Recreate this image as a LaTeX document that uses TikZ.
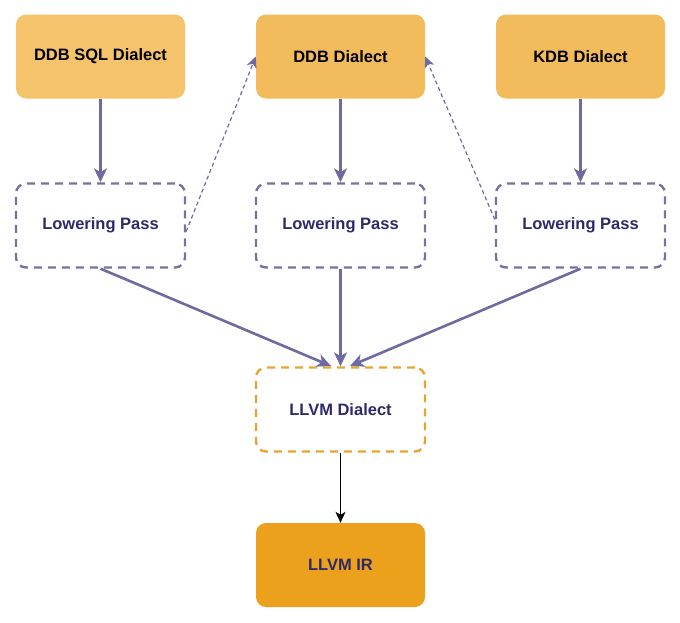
\documentclass[tikz,border=0pt]{standalone}
\usepackage{fontspec}
\setmainfont{Liberation Sans}
\usetikzlibrary{arrows.meta}
\definecolor{topfill}{HTML}{F2BC5C}
\definecolor{topfillA}{HTML}{F4C36C}
\definecolor{irfill}{HTML}{EBA11C}
\definecolor{navy}{HTML}{2D2A6A}
\definecolor{passline}{HTML}{75729F}
\definecolor{arr}{HTML}{6E6BA0}
\definecolor{orline}{HTML}{E9A42E}
\begin{document}
\begin{tikzpicture}[x=1pt,y=-1pt,
  box/.style={rounded corners=10pt, minimum width=169pt, minimum height=84pt, inner sep=0pt, font=\fontsize{16.5}{19}\selectfont\bfseries},
  topbox/.style={box, fill=topfill, text=black},
  passbox/.style={box, draw=passline, line width=2.4pt, dash pattern=on 8pt off 6pt, fill=white, text=navy},
  llvmbox/.style={box, draw=orline, line width=2.4pt, dash pattern=on 8pt off 6pt, fill=white, text=navy},
  irbox/.style={box, fill=irfill, text=navy},
  flow/.style={draw=arr, line width=2.6pt, -{Stealth[inset=4pt,length=14pt,width=13pt]}},
  back/.style={draw=arr, line width=1.2pt, dash pattern=on 4pt off 3pt, -{Stealth[inset=3pt,length=11pt,width=10pt]}},
  final/.style={draw=black, line width=1.4pt, -{Stealth[inset=3pt,length=11pt,width=10pt]}}]
\useasboundingbox (0,0) rectangle (680,622);
\node[topbox, fill=topfillA] (sql) at (100.5,56.5) {DDB SQL Dialect};
\node[topbox] (ddb) at (340.5,56.5) {DDB Dialect};
\node[topbox] (kdb) at (580.5,56.5) {KDB Dialect};
\node[passbox] (p1) at (100.5,225.5) {Lowering Pass};
\node[passbox] (p2) at (340.5,225.5) {Lowering Pass};
\node[passbox] (p3) at (580.5,225.5) {Lowering Pass};
\node[llvmbox] (ld) at (340.5,409.5) {LLVM Dialect};
\node[irbox] (ir) at (340.5,565) {LLVM IR};
\coordinate (t1) at (331,366);
\coordinate (t3) at (350,366);
\draw[flow] (sql.south) -- (p1.north);
\draw[flow] (ddb.south) -- (p2.north);
\draw[flow] (kdb.south) -- (p3.north);
\draw[flow] (p1.south) -- (t1);
\draw[flow] (p2.south) -- (ld.north);
\draw[flow] (p3.south) -- (t3);
\draw[back] ([yshift=-6pt]p1.east) -- ([yshift=0pt]ddb.west);
\draw[back] ([yshift=6pt]p3.west) -- ([yshift=0pt]ddb.east);
\draw[final] (ld.south) -- (ir.north);
\end{tikzpicture}
\end{document}
